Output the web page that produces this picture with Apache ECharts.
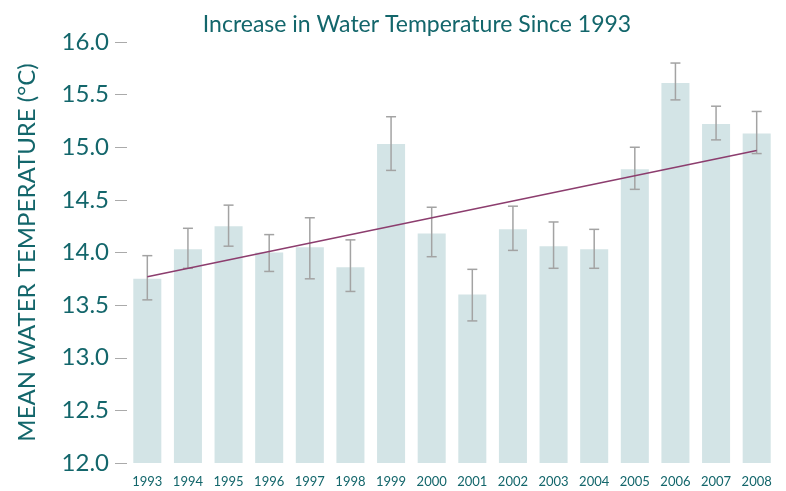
<!DOCTYPE html>
<html>
<head>
<meta charset="utf-8">
<script src="https://cdn.jsdelivr.net/npm/echarts@6/dist/echarts.min.js"></script>
<style>
  html, body { margin: 0; padding: 0; background: #fff; }
  #main { width: 786px; height: 491px; }
</style>
</head>
<body>
<div id="main"></div>
<script>
// data
var years = ['1993','1994','1995','1996','1997','1998','1999','2000','2001','2002','2003','2004','2005','2006','2007','2008'];
var meanTemp = [13.75, 14.03, 14.25, 14.00, 14.05, 13.86, 15.03, 14.18, 13.60, 14.22, 14.06, 14.03, 14.79, 15.61, 15.22, 15.13];
var errHigh  = [13.97, 14.23, 14.45, 14.17, 14.33, 14.12, 15.29, 14.43, 13.84, 14.44, 14.29, 14.22, 15.00, 15.80, 15.39, 15.34];
var errLow   = [13.55, 13.85, 14.06, 13.82, 13.75, 13.63, 14.78, 13.96, 13.35, 14.02, 13.85, 13.85, 14.60, 15.45, 15.07, 14.94];
var trendEnds = [13.77, 14.97]; // trend line at 1993 and 2008

var teal = '#13666b';
var font = 'Lato';

var trendData = years.map(function (y, i) {
  if (i === 0) return trendEnds[0];
  if (i === years.length - 1) return trendEnds[1];
  return '-';
});

var errData = years.map(function (y, i) { return [i, errLow[i], errHigh[i]]; });

var myChart = echarts.init(document.getElementById('main'));
myChart.setOption({
  animation: false,
  title: {
    text: 'Increase in Water Temperature Since 1993',
    left: 412,
    textAlign: 'center',
    top: 8,
    textStyle: { color: teal, fontFamily: font, fontWeight: 'normal', fontSize: 23 }
  },
  grid: { left: 127, right: 9, top: 42, bottom: 28 },
  xAxis: {
    type: 'category',
    data: years,
    axisLine: { show: false },
    axisTick: { show: false },
    axisLabel: { color: teal, fontFamily: font, fontSize: 13, margin: 12 }
  },
  yAxis: {
    type: 'value',
    min: 12,
    max: 16,
    interval: 0.5,
    name: 'MEAN WATER TEMPERATURE (°C)',
    nameLocation: 'middle',
    nameGap: 88,
    nameTextStyle: { color: teal, fontFamily: font, fontSize: 24 },
    axisLine: { show: false },
    axisTick: { show: true, length: 12, lineStyle: { color: '#aaaaaa' } },
    splitLine: { show: false },
    axisLabel: {
      color: teal, fontFamily: font, fontSize: 24, margin: 18,
      formatter: function (v) { return v.toFixed(1); }
    }
  },
  series: [
    {
      type: 'bar',
      data: meanTemp,
      barWidth: '69%',
      itemStyle: { color: '#d3e4e6' }
    },
    {
      type: 'custom',
      data: errData,
      z: 5,
      renderItem: function (params, api) {
        var x = api.value(0);
        var lo = api.coord([x, api.value(1)]);
        var hi = api.coord([x, api.value(2)]);
        var hw = 5;
        var style = { stroke: '#a3a3a3', lineWidth: 1.5 };
        return {
          type: 'group',
          children: [
            { type: 'line', shape: { x1: hi[0], y1: hi[1], x2: lo[0], y2: lo[1] }, style: style },
            { type: 'line', shape: { x1: hi[0] - hw, y1: hi[1], x2: hi[0] + hw, y2: hi[1] }, style: style },
            { type: 'line', shape: { x1: lo[0] - hw, y1: lo[1], x2: lo[0] + hw, y2: lo[1] }, style: style }
          ]
        };
      }
    },
    {
      type: 'line',
      data: trendData,
      connectNulls: true,
      symbol: 'none',
      z: 6,
      lineStyle: { color: '#8c3d6e', width: 1.5 }
    }
  ]
});
</script>
</body>
</html>
